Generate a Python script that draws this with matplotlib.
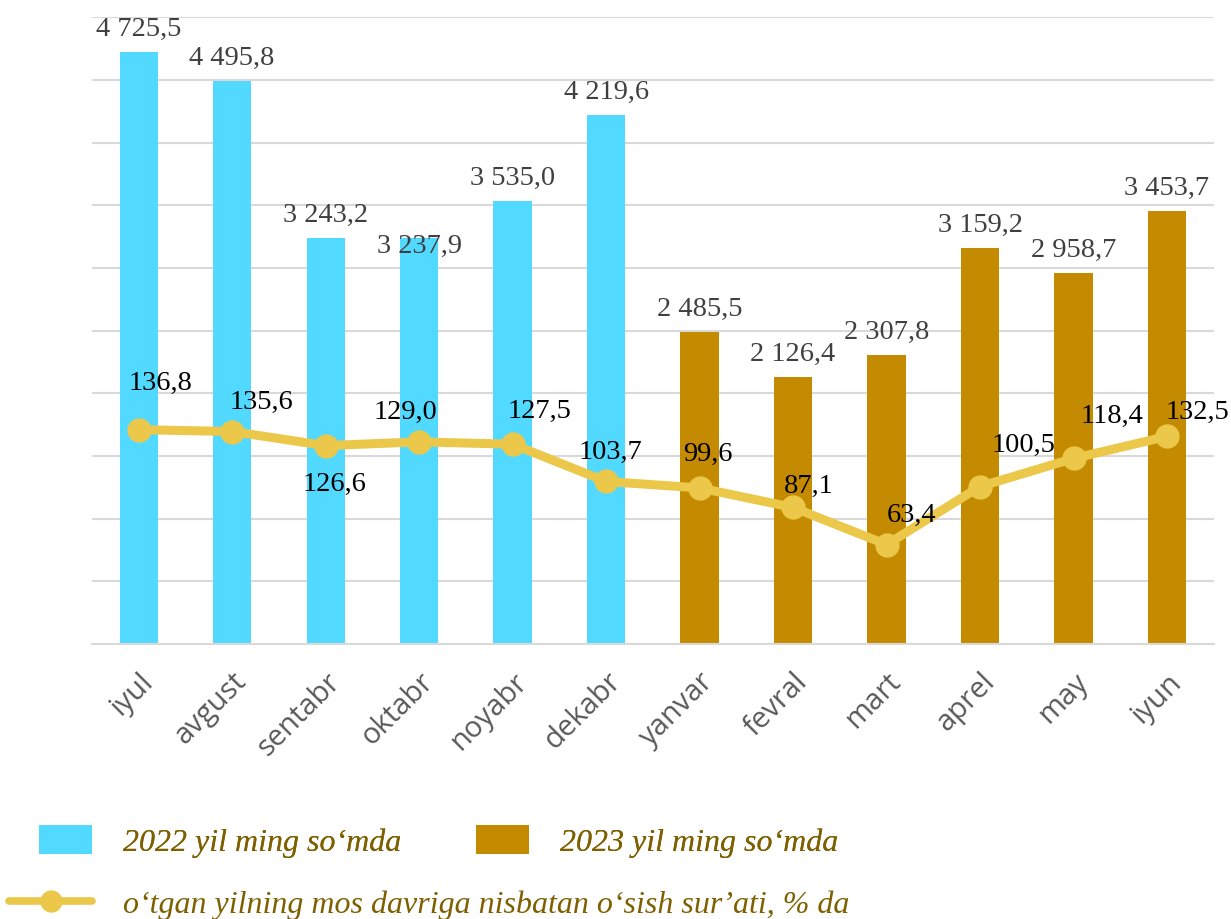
import numpy as np
import matplotlib.pyplot as plt
import matplotlib.transforms as mtransforms
from matplotlib.patches import Patch
from matplotlib.lines import Line2D

# ma'lumotlar
months = ['iyul', 'avgust', 'sentabr', 'oktabr', 'noyabr', 'dekabr',
          'yanvar', 'fevral', 'mart', 'aprel', 'may', 'iyun']
values_2022 = [4725.5, 4495.8, 3243.2, 3237.9, 3535.0, 4219.6]
values_2023 = [2485.5, 2126.4, 2307.8, 3159.2, 2958.7, 3453.7]
growth = [136.8, 135.6, 126.6, 129.0, 127.5, 103.7,
          99.6, 87.1, 63.4, 100.5, 118.4, 132.5]

c22 = '#52D9FF'
c23 = '#C48B00'
cline = '#EBC84A'
serif = ['Liberation Serif', 'DejaVu Serif']


def fmt(v):
    s = f'{v:,.1f}'
    return s.replace(',', ' ').replace('.', ',')


fig = plt.figure(figsize=(12.31, 9.2), dpi=100)
ax = fig.add_axes([0.0747, 0.299, 0.9113, 0.681])

x = np.arange(len(months))
x22 = x[:len(values_2022)]
x23 = x[len(values_2022):]
ax.bar(x22, values_2022, width=0.41, color=c22, zorder=2)
ax.bar(x23, values_2023, width=0.41, color=c23, zorder=2)

ax.set_xlim(-0.5, len(months) - 0.5)
ax.set_ylim(0, 5000)
ax.set_yticks(np.arange(0, 5001, 500))
ax.yaxis.grid(True, color='#D9D9D9', lw=1.5, zorder=0)
for s in ['top', 'right', 'left']:
    ax.spines[s].set_visible(False)
ax.spines['bottom'].set_color('#D9D9D9')
ax.spines['bottom'].set_linewidth(1.5)
ax.set_xticks(x)
ax.set_xticklabels(months, rotation=45, ha='right', rotation_mode='anchor',
                   fontsize=21, color='#595959', family='Open Sans')
shift = mtransforms.ScaledTranslation(3 / 72, 0, fig.dpi_scale_trans)
for lab in ax.get_xticklabels():
    lab.set_transform(lab.get_transform() + shift)

# ustun yorliqlari
bar_off = [17, 17, 17, -5, 17, 17, 17, 17, 17, 17, 17, 17]
for xi, v, dy in zip(x, values_2022 + values_2023, bar_off):
    ax.annotate(fmt(v), (xi, v), xytext=(0, dy), textcoords='offset points',
                ha='center', va='center', fontsize=20.5, color='#404040',
                family=serif)

# o'sish sur'ati chizig'i
ax2 = ax.twinx()
ax2.set_ylim(0, 400)
ax2.axis('off')
ax2.plot(x, growth, color=cline, lw=6.5, marker='o', markersize=16.5,
         solid_capstyle='round', solid_joinstyle='round', zorder=3)
line_off = [(16, 34), (21, 22), (6, -27), (-10, 22), (19, 24), (3, 22),
            (6, 25), (11, 16), (18, 22), (31, 30), (28, 31), (22, 18)]
for xi, v, (dx, dy) in zip(x, growth, line_off):
    ax2.annotate(fmt(v), (xi, v), xytext=(dx, dy), textcoords='offset points',
                 ha='center', va='center', fontsize=20.5, color='black',
                 family=serif)

# twinx chap belgilarni qaytaradi
ax.tick_params(axis='y', left=False, labelleft=False)
ax.tick_params(axis='x', length=0, pad=16)

# legenda
leg_font = {'family': serif, 'style': 'italic', 'size': 23}
h1 = [Patch(facecolor=c22), Patch(facecolor=c23)]
leg1 = fig.legend(h1, ['2022 yil ming soʻmda', '2023 yil ming soʻmda'],
                  loc='center left', bbox_to_anchor=(0.0317, 0.0848), ncol=2,
                  frameon=False, prop=leg_font, labelcolor='#7F6000',
                  handlelength=1.66, handleheight=1.03, handletextpad=0.97,
                  columnspacing=2.34, borderpad=0, borderaxespad=0)
h2 = [Line2D([], [], color=cline, lw=5.5, marker='o', markersize=15,
             solid_capstyle='round')]
fig.legend(h2, ['oʻtgan yilning mos davriga nisbatan oʻsish surʼati, % da'],
           loc='center left', bbox_to_anchor=(0.0073, 0.0163),
           frameon=False, prop=leg_font, labelcolor='#7F6000',
           handlelength=2.6, handletextpad=0.97, borderpad=0, borderaxespad=0)
fig.add_artist(leg1)

fig.savefig('out.png', dpi=100)
